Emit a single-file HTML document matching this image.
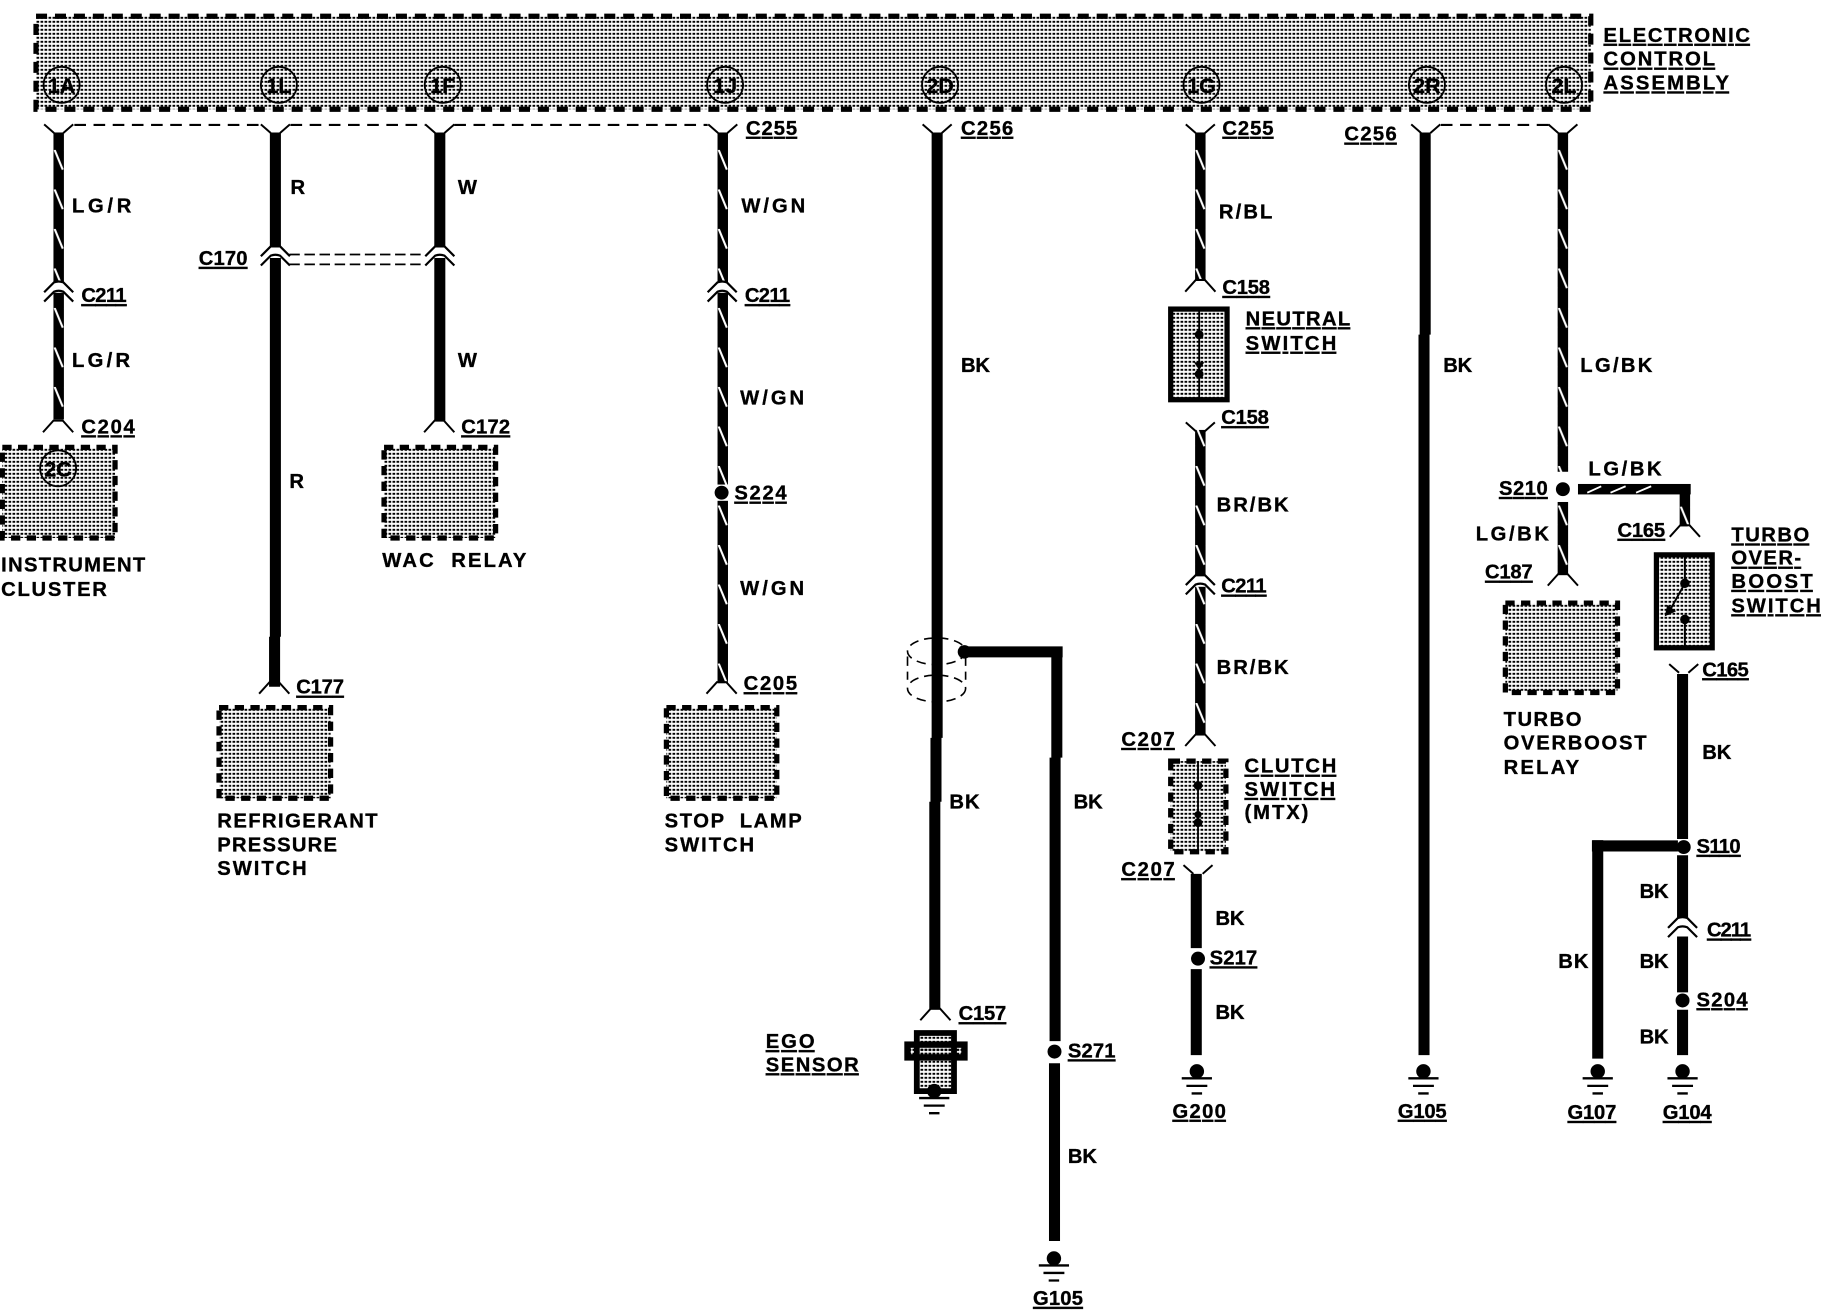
<!DOCTYPE html>
<html><head><meta charset="utf-8"><style>
html,body{margin:0;padding:0;background:#fff}
svg{display:block}
text{font-family:"Liberation Sans",sans-serif;font-weight:700;font-size:17.4px;fill:#000;stroke:#000;stroke-width:.3}
.u{text-decoration:underline}
.c{text-anchor:middle;font-size:18.5px}
</style></head><body>
<svg xmlns="http://www.w3.org/2000/svg" width="1822" height="1312" viewBox="0 0 1568 1129.1">
<defs>
<pattern id="st" patternUnits="userSpaceOnUse" width="4" height="4" patternTransform="scale(.8606)"><rect x=".5" y=".8" width="2.7" height="2" fill="#000"/></pattern>
<pattern id="tw" patternUnits="userSpaceOnUse" x="-4.5" y="27" width="9" height="34"><rect x="0" y="0" width="9" height="34" fill="#000"/><path d="M1,0 L8,17" stroke="#fff" stroke-width="1.8" fill="none"/></pattern>
<g id="y" fill="none" stroke="#000" stroke-width="1.7"><path d="M-12.5,-7.5 L-4,0 M12.5,-7.5 L4,0"/></g>
<g id="f" fill="none" stroke="#000" stroke-width="1.7"><path d="M-13,10 L-4,0 L4,0 L13,10"/></g>
<g id="x" fill="none" stroke="#000" stroke-width="1.9"><path d="M-12.5,8.5 L-4,0 Q0,-1.5 4,0 L12.5,8.5 M-12.5,16.5 L-4,8 Q0,6.5 4,8 L12.5,16.5"/></g>
<g id="g"><circle cx="0" cy="0" r="6.2" fill="#000"/><path d="M-13,6 H13 M-9,12.5 H9 M-4.5,19 H4.5" stroke="#000" stroke-width="2" fill="none"/></g>
</defs>

<!-- stipple + dashed boxes -->
<g fill="url(#st)" stroke="none">
<rect x="31" y="14" width="1338" height="80"/>
<rect x="2" y="385" width="97" height="78"/>
<rect x="330.5" y="385" width="96" height="78"/>
<rect x="188.5" y="609" width="96" height="78"/>
<rect x="573.5" y="609" width="95" height="78"/>
<rect x="1295.5" y="519" width="96.5" height="77"/>
<rect x="1007.5" y="655" width="47.5" height="78"/>
<rect x="1007.5" y="266" width="48.5" height="78"/>
<rect x="1425" y="477" width="49" height="80"/>
<rect x="789" y="889" width="32" height="50"/>
<rect x="780" y="898" width="50" height="13"/>
</g>
<g fill="none" stroke="#000" stroke-width="4.5">
<rect x="31" y="14" width="1338" height="80" stroke-dasharray="9.5 6.8"/>
<rect x="2" y="385" width="97" height="78" stroke-dasharray="8 5.5"/>
<rect x="330.5" y="385" width="96" height="78" stroke-dasharray="8 5.5"/>
<rect x="188.5" y="609" width="96" height="78" stroke-dasharray="8 5.5"/>
<rect x="573.5" y="609" width="95" height="78" stroke-dasharray="8 5.5"/>
<rect x="1295.5" y="519" width="96.5" height="77" stroke-dasharray="8 5.5"/>
<rect x="1007.5" y="655" width="47.5" height="78" stroke-dasharray="8 5.5"/>
<rect x="1007.5" y="266" width="48.5" height="78"/>
<rect x="1425.5" y="477.5" width="48" height="80"/>
</g>

<!-- header pins -->
<g fill="none" stroke="#000" stroke-width="1.6">
<circle cx="53" cy="73" r="15.5"/><circle cx="240" cy="73" r="15.5"/><circle cx="381" cy="73" r="15.5"/><circle cx="624" cy="73" r="15.5"/><circle cx="809" cy="73" r="15.5"/><circle cx="1034" cy="73" r="15.5"/><circle cx="1228" cy="73" r="15.5"/><circle cx="1346" cy="73" r="15.5"/><circle cx="50" cy="403" r="15.5"/>
</g>
<text class="c" x="53" y="80">1A</text><text class="c" x="240" y="80">1L</text><text class="c" x="381" y="80">1F</text><text class="c" x="624" y="80">1J</text><text class="c" x="809" y="80">2D</text><text class="c" x="1034" y="80">1G</text><text class="c" x="1228" y="80">2R</text><text class="c" x="1346" y="80">2L</text><text class="c" x="50" y="410">2C</text>

<!-- dashed bus lines -->
<path d="M64,107.5 H225 M250,107.5 H366 M391,107.5 H609 M1240,107.5 H1333" stroke="#000" stroke-width="1.8" fill="none" stroke-dasharray="10 6.5"/>
<path d="M249,219 H366 M249,227.5 H366" stroke="#000" stroke-width="1.5" fill="none" stroke-dasharray="9 4"/>

<!-- shield (under wire) -->
<g fill="none" stroke="#000" stroke-width="1.4" stroke-dasharray="8 5">
<ellipse cx="806" cy="560.5" rx="25" ry="11.5"/><ellipse cx="806" cy="592.5" rx="25" ry="11.5"/><path d="M781,565 V585 M831,565 V585"/>
</g>

<!-- twisted wires -->
<g transform="translate(50.5,0)"><rect x="-4.5" y="114" width="9" height="129" fill="url(#tw)"/><rect x="-4.5" y="252" width="9" height="109" fill="url(#tw)"/></g>
<g transform="translate(622,0)"><rect x="-4.5" y="114" width="9" height="129" fill="url(#tw)"/><rect x="-4.5" y="252" width="9" height="165" fill="url(#tw)"/><rect x="-4.5" y="431" width="9" height="157" fill="url(#tw)"/></g>
<g transform="translate(1033,0)"><rect x="-4.5" y="114" width="9" height="127" fill="url(#tw)"/><rect x="-4.5" y="370" width="9" height="126" fill="url(#tw)"/><rect x="-4.5" y="505" width="9" height="128" fill="url(#tw)"/></g>
<g transform="translate(1345,0)"><rect x="-4.5" y="114" width="9" height="292" fill="url(#tw)"/><rect x="-4.5" y="432" width="9" height="63" fill="url(#tw)"/></g>
<g transform="translate(1450,-33)"><rect x="-4.5" y="453" width="9" height="33" fill="url(#tw)"/></g>
<rect x="1358" y="416.5" width="97" height="9" fill="#000"/>
<path d="M1366,424 L1378,418.5 M1386,424 L1399,418.5 M1408,424 L1421,418.5" stroke="#fff" stroke-width="1.6"/>

<!-- solid wires -->
<g fill="none" stroke="#000" stroke-width="9.5">
<path d="M237,114 V213 M237,222 V548 M236.3,548 V591"/>
<path d="M378.5,114 V213 M378.5,222 V362"/>
<path d="M806.5,114 V635 M805.5,635 V690 M804.5,690 V869"/>
<path d="M826,561 H914.5 M909.5,561 V652 M908,652 V896 M907.5,915 V1068"/>
<path d="M1029.5,752 V816 M1029.5,834 V908"/>
<path d="M1226.5,114 V288 M1225.5,288 V908"/>
<path d="M1448,580 V722 M1448,736 V790 M1448,806 V854 M1448,869 V908"/>
<path d="M1444,728 H1370 M1375,723 V911"/>
</g>

<!-- dots -->
<g fill="#000">
<circle cx="830" cy="561" r="5.8"/><circle cx="621" cy="424" r="6"/><circle cx="1031" cy="825" r="6"/><circle cx="907.5" cy="905" r="6"/><circle cx="1345" cy="421" r="6"/><circle cx="1449" cy="729" r="6"/><circle cx="1448" cy="861" r="6"/>
</g>

<!-- connectors -->
<use href="#y" x="50.5" y="114.5"/><use href="#y" x="237" y="114.5"/><use href="#y" x="378.5" y="114.5"/><use href="#y" x="622" y="114.5"/><use href="#y" x="806.5" y="114.5"/><use href="#y" x="1033" y="114.5"/><use href="#y" x="1227" y="114.5"/><use href="#y" x="1345" y="114.5"/>
<use href="#y" x="1033" y="371"/><use href="#y" x="1031" y="752"/><use href="#y" x="1449" y="579"/>
<use href="#f" x="50" y="362"/><use href="#f" x="378" y="362"/><use href="#f" x="236" y="587"/><use href="#f" x="621" y="587"/><use href="#f" x="1033" y="241"/><use href="#f" x="1033" y="632"/><use href="#f" x="1345" y="494"/><use href="#f" x="1450" y="452"/><use href="#f" x="805" y="868"/>
<use href="#x" x="50.5" y="243"/><use href="#x" x="621.5" y="243"/><use href="#x" x="237" y="212"/><use href="#x" x="378.5" y="212"/><use href="#x" x="1033" y="495"/><use href="#x" x="1448" y="790"/>

<!-- grounds -->
<use href="#g" x="1030" y="922"/><use href="#g" x="1225" y="922"/><use href="#g" x="1375" y="922"/><use href="#g" x="1448" y="922"/><use href="#g" x="907" y="1083"/>
<use href="#g" x="804" y="939"/>

<!-- EGO sensor -->
<g fill="none" stroke="#000">
<path d="M789,889 H821 V939 H789 Z" stroke-width="5"/>
<rect x="781" y="899" width="49" height="11" stroke-width="5.5" fill="url(#st)"/>
</g>

<!-- switch internals -->
<g stroke="#000" fill="#000">
<path d="M1032,266 V344" stroke-width="1.6"/><circle cx="1032" cy="288" r="3.3"/><circle cx="1032" cy="322" r="3.3"/><path d="M1028,312 H1036 L1032,318 Z" stroke-width=".5"/>
<path d="M1031,655 V733" stroke-width="1.6"/><circle cx="1031" cy="676" r="3.3"/><circle cx="1031" cy="701" r="2.6"/><circle cx="1031" cy="708" r="3.3"/>
<path d="M1450,478 V502 L1435,529 M1450,534 V556" stroke-width="1.7" fill="none"/><circle cx="1450" cy="502" r="3.6"/><circle cx="1450" cy="533" r="3.6"/><path d="M1433,530 L1435,521 L1442,526 Z" stroke-width=".5"/>
</g>

<!-- labels -->
<text class="u" x="1380" y="36" textLength="126">ELECTRONIC</text>
<text class="u" x="1380" y="56.5" textLength="96">CONTROL</text>
<text class="u" x="1380" y="77" textLength="108">ASSEMBLY</text>
<text class="u" x="642" y="116" textLength="44">C255</text>
<text class="u" x="827" y="116" textLength="45">C256</text>
<text class="u" x="1052" y="116" textLength="44">C255</text>
<text class="u" x="1157" y="121" textLength="45">C256</text>
<text x="62" y="183" textLength="51">LG/R</text>
<text x="250" y="167">R</text>
<text x="394" y="167">W</text>
<text x="638" y="183" textLength="55">W/GN</text>
<text x="1049" y="188" textLength="46">R/BL</text>
<text class="u" x="171" y="228" textLength="42">C170</text>
<text class="u" x="70" y="260" textLength="39">C211</text>
<text class="u" x="641" y="260" textLength="39">C211</text>
<text class="u" x="1052" y="253" textLength="41">C158</text>
<text class="u" x="1072" y="280" textLength="90">NEUTRAL</text>
<text class="u" x="1072" y="301" textLength="78">SWITCH</text>
<text x="62" y="316" textLength="50">LG/R</text>
<text x="394" y="316">W</text>
<text x="637" y="348" textLength="55">W/GN</text>
<text x="827" y="320" textLength="25">BK</text>
<text x="1242" y="320" textLength="25">BK</text>
<text x="1360" y="320" textLength="62">LG/BK</text>
<text class="u" x="70" y="373" textLength="46">C204</text>
<text class="u" x="397" y="373" textLength="42">C172</text>
<text class="u" x="1051" y="365" textLength="41">C158</text>
<text class="u" x="632" y="430" textLength="45">S224</text>
<text x="249" y="420">R</text>
<text x="1047" y="440" textLength="62">BR/BK</text>
<text x="1367" y="409" textLength="63">LG/BK</text>
<text class="u" x="1290" y="426" textLength="42">S210</text>
<text class="u" x="1392" y="462" textLength="41">C165</text>
<text x="1270" y="465" textLength="63">LG/BK</text>
<text class="u" x="1490" y="466" textLength="67">TURBO</text>
<text class="u" x="1490" y="486" textLength="60">OVER-</text>
<text class="u" x="1490" y="506" textLength="70">BOOST</text>
<text class="u" x="1490" y="527" textLength="77">SWITCH</text>
<text class="u" x="1278" y="498" textLength="41">C187</text>
<text x="1" y="492" textLength="124">INSTRUMENT</text>
<text x="1" y="513" textLength="91">CLUSTER</text>
<text x="329" y="488" textLength="124" xml:space="preserve">WAC  RELAY</text>
<text class="u" x="1051" y="510" textLength="39">C211</text>
<text x="637" y="512" textLength="55">W/GN</text>
<text x="1047" y="580" textLength="62">BR/BK</text>
<text class="u" x="1465" y="582" textLength="40">C165</text>
<text class="u" x="255" y="597" textLength="41">C177</text>
<text class="u" x="640" y="594" textLength="46">C205</text>
<text x="1294" y="625" textLength="67">TURBO</text>
<text x="1294" y="645" textLength="123">OVERBOOST</text>
<text x="1294" y="666" textLength="65">RELAY</text>
<text x="1465" y="653" textLength="25">BK</text>
<text class="u" x="965" y="642" textLength="46">C207</text>
<text class="u" x="1071" y="665" textLength="79">CLUTCH</text>
<text class="u" x="1071" y="685" textLength="78">SWITCH</text>
<text x="1071" y="705" textLength="55">(MTX)</text>
<text x="817" y="696" textLength="26">BK</text>
<text x="924" y="696" textLength="25">BK</text>
<text x="187" y="712" textLength="138">REFRIGERANT</text>
<text x="187" y="733" textLength="103">PRESSURE</text>
<text x="187" y="753" textLength="77">SWITCH</text>
<text x="572" y="712" textLength="118" xml:space="preserve">STOP  LAMP</text>
<text x="572" y="733" textLength="77">SWITCH</text>
<text class="u" x="965" y="754" textLength="46">C207</text>
<text class="u" x="1460" y="734" textLength="38">S110</text>
<text x="1411" y="773" textLength="25">BK</text>
<text x="1046" y="796" textLength="25">BK</text>
<text class="u" x="1469" y="806" textLength="38">C211</text>
<text class="u" x="1041" y="830" textLength="41">S217</text>
<text x="1341" y="833" textLength="26">BK</text>
<text x="1411" y="833" textLength="25">BK</text>
<text class="u" x="1460" y="866" textLength="44">S204</text>
<text x="1046" y="877" textLength="25">BK</text>
<text class="u" x="825" y="878" textLength="41">C157</text>
<text class="u" x="659" y="902" textLength="42">EGO</text>
<text class="u" x="659" y="922" textLength="80">SENSOR</text>
<text class="u" x="919" y="910" textLength="41">S271</text>
<text x="1411" y="898" textLength="25">BK</text>
<text class="u" x="1009" y="962" textLength="46">G200</text>
<text class="u" x="1203" y="962" textLength="42">G105</text>
<text class="u" x="1349" y="963" textLength="42">G107</text>
<text class="u" x="1431" y="963" textLength="42">G104</text>
<text x="919" y="1001" textLength="25">BK</text>
<text class="u" x="889" y="1123" textLength="43">G105</text>
</svg>
</body></html>
